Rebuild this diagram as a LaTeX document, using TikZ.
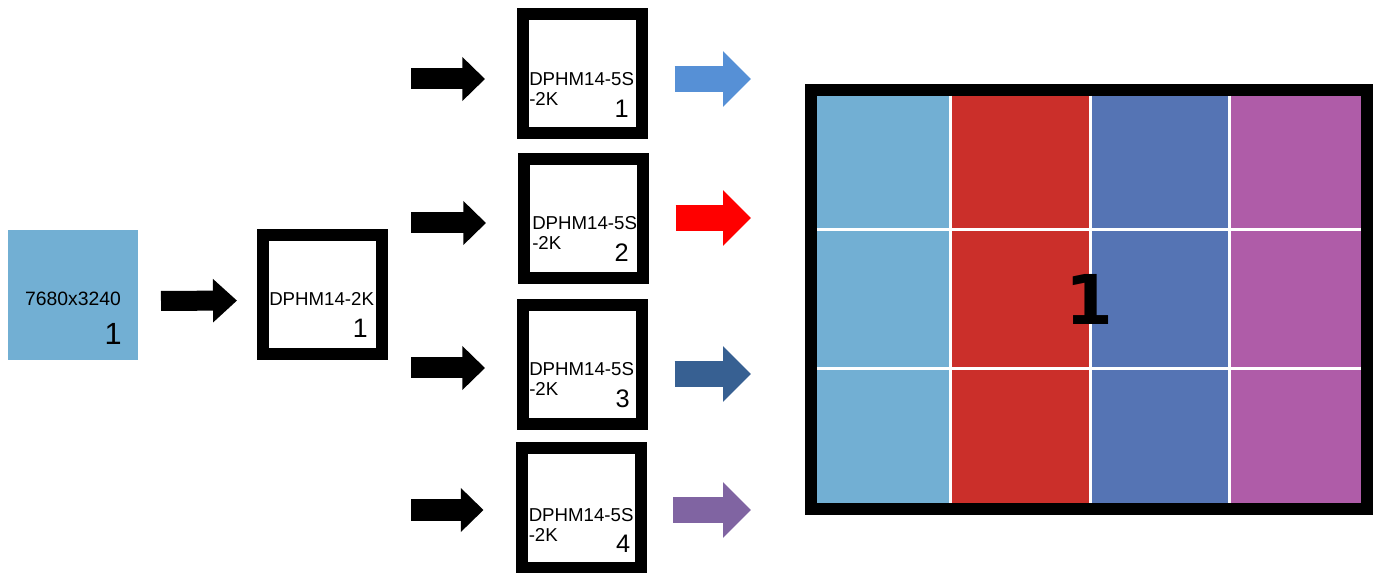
\documentclass[tikz,border=0pt]{standalone}
\usepackage{fontspec}
\setmainfont{Liberation Sans}
\newfontfamily\dejavu{DejaVu Sans}
\usetikzlibrary{arrows.meta,calc}

\definecolor{srcblue}{RGB}{114,175,211}
\definecolor{tilered}{RGB}{203,47,42}
\definecolor{tileblue}{RGB}{85,116,180}
\definecolor{tilepurple}{RGB}{175,92,168}
\definecolor{outblue}{RGB}{86,144,214}
\definecolor{outred}{RGB}{255,0,0}
\definecolor{outnavy}{RGB}{55,96,146}
\definecolor{outpurple}{RGB}{128,100,162}

\tikzset{
  unit/.style={draw=black, line width=9pt, fill=white, minimum width=89.25pt, minimum height=89.25pt, inner sep=0pt},
  lbl/.style={anchor=north west, inner sep=0pt, align=left, font=\fontsize{14}{15}\selectfont},
  num/.style={anchor=base east, inner sep=0pt, font=\fontsize{19}{21}\selectfont},
  fatin/.style={line width=15.75pt, -{Triangle[length=17pt, width=32pt]}, shorten <=17.25pt, shorten >=24pt},
  fatout/.style={line width=19.5pt, -{Triangle[length=21pt, width=40.5pt]}, shorten <=20pt, shorten >=40.5pt},
}

\begin{document}
\begin{tikzpicture}[x=0.75pt,y=0.75pt,yscale=-1]
\useasboundingbox (0,0) rectangle (1382,573);

% source picture
\node (src) [fill=srcblue, minimum size=97.5pt, inner sep=0pt, outer sep=0pt] at (73,295) {};
\node (srctxt) [anchor=base, inner sep=0pt, font=\fontsize{14.5}{16}\selectfont] at ($(src)+(0,11)$) {7680x3240};
\node (srcnum) [num, font=\fontsize{23}{25}\selectfont] at ($(src.south east)+(-16,-15)$) {1};

% first splitter
\node (dp) [unit] at (322.5,294.5) {};
\node (dptxt) [lbl] at ($(dp.west)+(12,-2)$) {DPHM14-2K};
\node (dpnum) [num, font=\fontsize{20}{22}\selectfont] at ($(dp.south east)+(-20,-22)$) {1};

% second splitters
\node (b1) [unit] at (582.5,74) {};
\node (b2) [unit] at (583.5,219) {};
\node (b3) [unit] at (582.5,364.5) {};
\node (b4) [unit] at (581,508) {};

\node (b1txt) [lbl] at ($(b1.west)+(12,-2)$) {DPHM14-5S\\-2K};
\node (b2txt) [lbl] at ($(b2.west)+(14,-3)$) {DPHM14-5S\\-2K};
\node (b3txt) [lbl] at ($(b3.west)+(12,-2)$) {DPHM14-5S\\-2K};
\node (b4txt) [lbl] at ($(b4.west)+(13,0)$) {DPHM14-5S\\-2K};

\node (b1num) [num] at ($(b1.south east)+(-19,-22)$) {1};
\node (b2num) [num] at ($(b2.south east)+(-20,-23)$) {2};
\node (b3num) [num] at ($(b3.south east)+(-18,-22)$) {3};
\node (b4num) [num] at ($(b4.south east)+(-16,-21)$) {4};

% video wall
\node (disp) [draw=black, line width=9pt, minimum width=417pt, minimum height=314.25pt, inner sep=0pt] at (1089,299.5) {};
\fill [srcblue] (817,96) rectangle (950,503);
\fill [tilered] (950,96) rectangle (1090,503);
\fill [tileblue] (1090,96) rectangle (1229,503);
\fill [tilepurple] (1229,96) rectangle (1361,503);
\draw [white, line width=2.25pt] (950,96) -- (950,503);
\draw [white, line width=2.25pt] (1090,96) -- (1090,503);
\draw [white, line width=2.25pt] (1229,96) -- (1229,503);
\draw [white, line width=2.25pt] (817,230) -- (1361,230);
\draw [white, line width=2.25pt] (817,369) -- (1361,369);
\node (bignum) [inner sep=0pt, font=\dejavu\bfseries\fontsize{51.5}{55}\selectfont] at (disp) {1};

% arrows
\draw [line width=15pt, -{Triangle[length=18pt, width=31.5pt]}, shorten <=17.25pt, shorten >=15pt] ($(src.east)+(0,6)$) -- ($(dp.west)+(0,6)$);

\draw [fatin] ($(b1.west -| dp.east)+(0,5)$) -- ($(b1.west)+(0,5)$);
\draw [fatin] ($(b2.west -| dp.east)+(0,4)$) -- ($(b2.west)+(0,4)$);
\draw [fatin] ($(b3.west -| dp.east)+(0,3.5)$) -- ($(b3.west)+(0,3.5)$);
\draw [fatin] ($(b4.west -| dp.east)+(0,2)$) -- ($(b4.west)+(0,2)$);

\draw [fatout, outblue] ($(b1.east)+(0,5)$) -- ($(b1.east -| disp.west)+(0,5)$);
\draw [fatout, outred] ($(b2.east)+(0,-1)$) -- ($(b2.east -| disp.west)+(0,-1)$);
\draw [fatout, outnavy] ($(b3.east)+(0,9.5)$) -- ($(b3.east -| disp.west)+(0,9.5)$);
\draw [fatout, outpurple] ($(b4.east)+(0,2)$) -- ($(b4.east -| disp.west)+(0,2)$);

\end{tikzpicture}
\end{document}
